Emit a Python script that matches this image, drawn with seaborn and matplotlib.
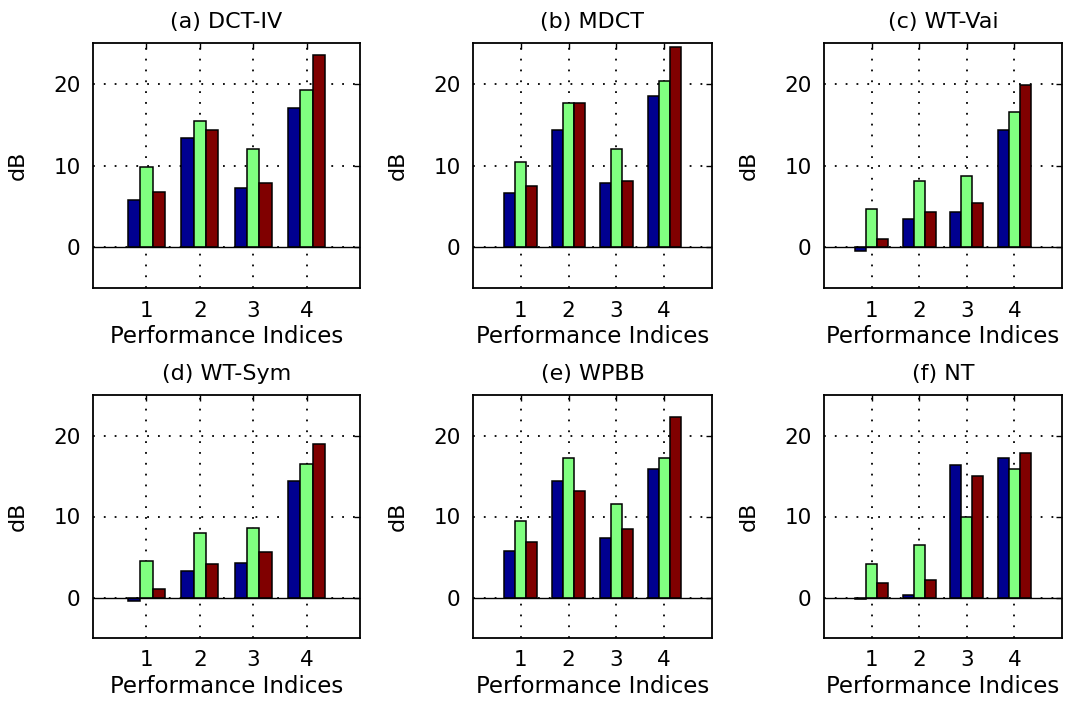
import numpy as np
import pandas as pd
import matplotlib
matplotlib.use("Agg")
import matplotlib.pyplot as plt
import seaborn as sns

# ---- data ----
categories = ["1", "2", "3", "4"]
series_names = ["S1", "S2", "S3"]
titles = ["(a) DCT-IV", "(b) MDCT", "(c) WT-Vai", "(d) WT-Sym", "(e) WPBB", "(f) NT"]

a_blue = [5.8, 13.4, 7.3, 17.1]
a_green = [9.8, 15.5, 12.0, 19.2]
a_red = [6.8, 14.3, 7.9, 23.5]

b_blue = [6.6, 14.3, 7.9, 18.5]
b_green = [10.4, 17.7, 12.0, 20.4]
b_red = [7.5, 17.7, 8.1, 24.5]

c_blue = [-0.45, 3.4, 4.3, 14.3]
c_green = [4.65, 8.1, 8.7, 16.6]
c_red = [1.05, 4.3, 5.35, 19.8]

d_blue = [-0.45, 3.25, 4.3, 14.4]
d_green = [4.5, 8.0, 8.6, 16.5]
d_red = [1.05, 4.1, 5.6, 18.9]

e_blue = [5.8, 14.4, 7.35, 15.9]
e_green = [9.45, 17.2, 11.5, 17.2]
e_red = [6.9, 13.1, 8.4, 22.3]

f_blue = [-0.15, 0.25, 16.3, 17.2]
f_green = [4.15, 6.5, 9.95, 15.9]
f_red = [1.75, 2.2, 15.0, 17.9]

panels = [
    (a_blue, a_green, a_red),
    (b_blue, b_green, b_red),
    (c_blue, c_green, c_red),
    (d_blue, d_green, d_red),
    (e_blue, e_green, e_red),
    (f_blue, f_green, f_red),
]
colors = ["#000090", "#80FF80", "#800000"]
yticks = [0, 10, 20]

# ---- figure ----
sns.set_theme(style="white")
plt.rcParams["font.family"] = ["DejaVu Sans"]
plt.rcParams["text.color"] = "black"
plt.rcParams["axes.labelcolor"] = "black"
plt.rcParams["xtick.color"] = "black"
plt.rcParams["ytick.color"] = "black"
W, H = 1075, 704
fig = plt.figure(figsize=(W / 100, H / 100), dpi=100)

cols = [(93, 360), (473, 712), (824, 1062)]
rows = [(43, 288), (395, 638)]

for i, (vals, title) in enumerate(zip(panels, titles)):
    r, c = divmod(i, 3)
    x0, x1 = cols[c]
    y0, y1 = rows[r]
    ax = fig.add_axes([x0 / W, 1 - y1 / H, (x1 - x0) / W, (y1 - y0) / H])
    rows_df = []
    for s, v in zip(series_names, vals):
        for cat, val in zip(categories, v):
            rows_df.append({"idx": cat, "dB": val, "series": s})
    df = pd.DataFrame(rows_df)
    ax.set_axisbelow(True)
    sns.barplot(data=df, x="idx", y="dB", hue="series", order=categories,
                hue_order=series_names, palette=colors, width=0.69,
                saturation=1, edgecolor="black", linewidth=1.1,
                legend=False, ax=ax, errorbar=None, zorder=3)
    ax.grid(True, axis="both", color="black", linestyle=(0, (1, 5)), linewidth=1.3)
    ax.axhline(0, color="black", linewidth=1.0, zorder=4)
    ax.set_xlim(-1, 4)
    ax.set_ylim(-5, 25)
    ax.set_yticks(yticks)
    ax.set_yticklabels([str(t) for t in yticks])
    ax.set_title(title, fontsize=16, pad=11, color="black")
    ax.set_xlabel("Performance Indices", fontsize=16.5, labelpad=3)
    ax.set_ylabel("dB", fontsize=16, labelpad=18)
    ax.tick_params(axis="both", direction="in", length=4, width=1,
                   top=True, right=True, labelsize=15.5, pad=9, colors="black")
    for sp in ax.spines.values():
        sp.set_color("black")
        sp.set_linewidth(1.3)

fig.savefig("out.png", dpi=100)
